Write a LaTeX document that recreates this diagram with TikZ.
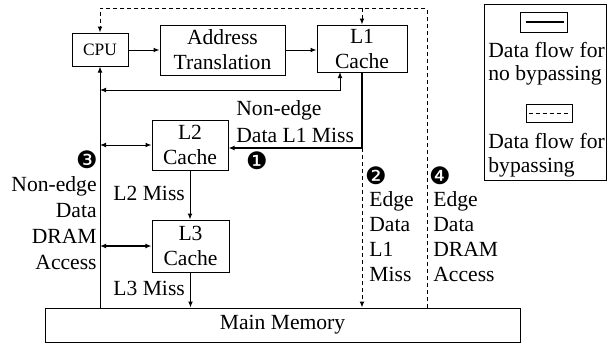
\documentclass[tikz,border=0pt]{standalone}
\usepackage{fontspec}
\setmainfont{Liberation Serif}
\newfontfamily\dingfont{DejaVu Sans}
\usetikzlibrary{arrows.meta,positioning}

\begin{document}
\begin{tikzpicture}[x=0.5pt,y=-0.5pt,
		unit/.style={draw,line width=0.5pt,inner sep=0pt,align=center,font=\fontsize{10.8}{12.5}\selectfont},
		lbl/.style={inner sep=0pt,font=\fontsize{10.8}{13}\selectfont},
		num/.style={inner sep=0pt,font=\dingfont\fontsize{12}{14}\selectfont},
		flow/.style={line width=0.5pt,-{Latex[length=3pt,width=2.4pt]}},
		duplex/.style={line width=0.5pt,{Latex[length=3pt,width=2.4pt]}-{Latex[length=3pt,width=2.4pt]}},
		bypass/.style={flow,dash pattern=on 2pt off 1.5pt},
		main/.style={line width=1pt}]
	\useasboundingbox (0,0) rectangle (607,345);
	% Units
	\node[unit,minimum width=28pt,minimum height=16.5pt,font=\fontsize{8.7}{10}\selectfont] (cpu) at (100,49.5) {CPU};
	\node[unit,minimum width=62.5pt,minimum height=25pt] (at) at (222.5,50) {Address\\Translation};
	\node[unit,minimum width=45pt,minimum height=23.5pt] (l1) at (362,48.5) {L1\\Cache};
	\node[unit,minimum width=38pt,minimum height=25pt] (l2) at (190,145) {L2\\Cache};
	\node[unit,minimum width=38.5pt,minimum height=26pt] (l3) at (190.5,246) {L3\\Cache};
	\node[unit,minimum width=237.5pt,minimum height=17pt] (mem) at (282.5,325) {Main Memory};
	% Junctions
	\coordinate (back) at (100,90);
	\coordinate (l1in) at (340,72);
	\coordinate (split) at (362,148);
	\coordinate (top) at (427,8);
	% No bypassing
	\draw[flow] (at.west -| cpu.east) -- (at.west);
	\draw[flow] (at.east) -- (at.east -| l1.west);
	\draw[flow] (mem.north -| cpu.south) -- (cpu.south);
	\draw[duplex] (l1in) |- (back);
	\draw[duplex] (l2.west -| cpu.south) -- (l2.west);
	\draw[duplex,main] (l3.west -| cpu.south) -- (l3.west);
	\draw[main] (l1.south) -- (split);
	\draw[flow,main] (split) -- (split -| l2.east);
	\draw[flow] (l2.south) -- (l2.south |- l3.north);
	\draw[flow] (l3.south) -- (l3.south |- mem.north);
	% Bypassing
	\draw[bypass] (split) -- (split |- mem.north);
	\draw[bypass] (mem.north -| top) -- (top) -| (cpu.north);
	\draw[bypass] (l1.north |- top) -- (l1.north);
	% Labels
	\node[lbl,anchor=north west,align=left,font=\fontsize{10.8}{13.5}\selectfont] (l1miss) at (236,100) {Non-edge\\Data L1 Miss};
	\node[lbl,anchor=base west] (l2miss) at (113,200) {L2 Miss};
	\node[lbl,anchor=base west] (l3miss) at (113,295) {L3 Miss};
	\node[lbl,anchor=north east,align=right] (dram) at (97,176) {Non-edge\\Data\\DRAM\\Access};
	\node[lbl,anchor=north west,align=left,font=\fontsize{10.8}{12.5}\selectfont] (edgemiss) at (369,191) {Edge\\Data\\L1\\Miss};
	\node[lbl,anchor=north west,align=left,font=\fontsize{10.8}{12.5}\selectfont] (edgedram) at (433,191) {Edge\\Data\\DRAM\\Access};
	\node[num] (n1) at (257,161) {❶};
	\node[num] (n2) at (376,176) {❷};
	\node[num] (n3) at (87,160) {❸};
	\node[num] (n4) at (440,176) {❹};
	% Legend
	\node[draw,line width=0.5pt,anchor=north west,inner sep=0pt,minimum width=61pt,minimum height=88pt] (legend) at (484,4) {};
	\node[draw,line width=0.5pt,inner sep=0pt,minimum width=23.5pt,minimum height=10pt] (solidkey) at (543.5,22) {};
	\draw[main] ([xshift=3pt]solidkey.west) -- ([xshift=-2pt]solidkey.east);
	\node[lbl,anchor=north west,align=left,font=\fontsize{10.8}{11.5}\selectfont] (solidtext) at (488,42) {Data flow for\\no bypassing};
	\node[draw,line width=0.5pt,inner sep=0pt,minimum width=23pt,minimum height=9pt] (dashkey) at (549,113) {};
	\draw[line width=0.5pt,dash pattern=on 2pt off 1.5pt] ([xshift=1.5pt]dashkey.west) -- ([xshift=-1.5pt]dashkey.east);
	\node[lbl,anchor=north west,align=left,font=\fontsize{10.8}{12}\selectfont] (dashtext) at (488,133) {Data flow for\\bypassing};
\end{tikzpicture}
\end{document}
